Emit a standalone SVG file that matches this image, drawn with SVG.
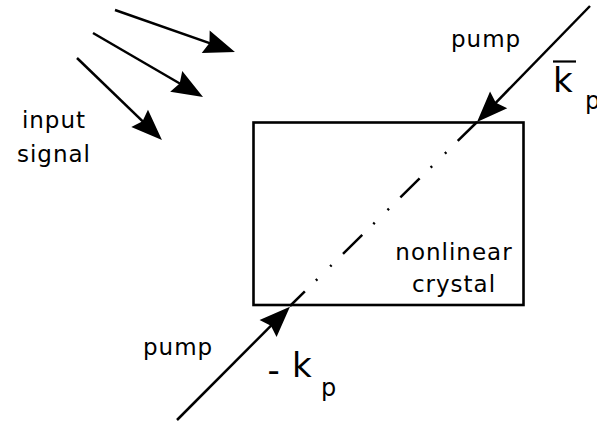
<svg xmlns="http://www.w3.org/2000/svg" width="597" height="425" viewBox="0 0 597 425">
<style>
.lbl{font-family:"DejaVu Sans","Liberation Sans",sans-serif;font-size:23px;letter-spacing:1px;fill:#000}
.big{font-family:"DejaVu Sans","Liberation Sans",sans-serif;font-size:34px;fill:#000}
.sub{font-family:"DejaVu Sans","Liberation Sans",sans-serif;font-size:24px;fill:#000}
.ln{stroke:#000;stroke-width:2.5;fill:none}
</style>
<defs>
<marker id="ah" markerUnits="userSpaceOnUse" orient="auto" markerWidth="34" markerHeight="26" refX="23" refY="13" viewBox="0 0 34 26" overflow="visible">
<path d="M0,1 L31,13 L0,25 L4,13 Z" fill="#000"/>
</marker>
</defs>
<rect width="597" height="425" fill="#fff"/>
<g id="connectors">
<line class="ln" x1="115" y1="10" x2="227.4" y2="49.4" marker-end="url(#ah)"/>
<line class="ln" x1="93" y1="33" x2="196.1" y2="93" marker-end="url(#ah)"/>
<line class="ln" x1="77" y1="58" x2="156.2" y2="134.4" marker-end="url(#ah)"/>
<line class="ln" x1="590" y1="6" x2="482.6" y2="116.3" marker-end="url(#ah)"/>
<line class="ln" x1="177" y1="420" x2="284.3" y2="312.3" marker-end="url(#ah)"/>
<line class="ln" x1="477" y1="122" x2="290" y2="306" stroke-dasharray="27 16 2 18 2 15.5"/>
</g>
<g id="crystal">
<rect x="253.5" y="122.5" width="270" height="182.5" fill="none" stroke="#000" stroke-width="2.6"/>
<text class="lbl" x="454" y="260" text-anchor="middle">nonlinear</text>
<text class="lbl" x="454" y="292" text-anchor="middle">crystal</text>
</g>
<g id="input-signal">
<text class="lbl" x="54" y="128" text-anchor="middle">input</text>
<text class="lbl" x="54" y="162" text-anchor="middle">signal</text>
</g>
<g id="pump-top">
<text class="lbl" x="451" y="46.5">pump</text>
<line x1="553" y1="61.5" x2="576" y2="61.5" stroke="#000" stroke-width="2.2"/>
<text class="big" x="553" y="92">k</text>
<text class="sub" x="585" y="109">p</text>
</g>
<g id="pump-bottom">
<text class="lbl" x="143" y="355">pump</text>
<text class="big" x="267.5" y="382">-</text>
<text class="big" x="292" y="377">k</text>
<text class="sub" x="321" y="396">p</text>
</g>
</svg>
